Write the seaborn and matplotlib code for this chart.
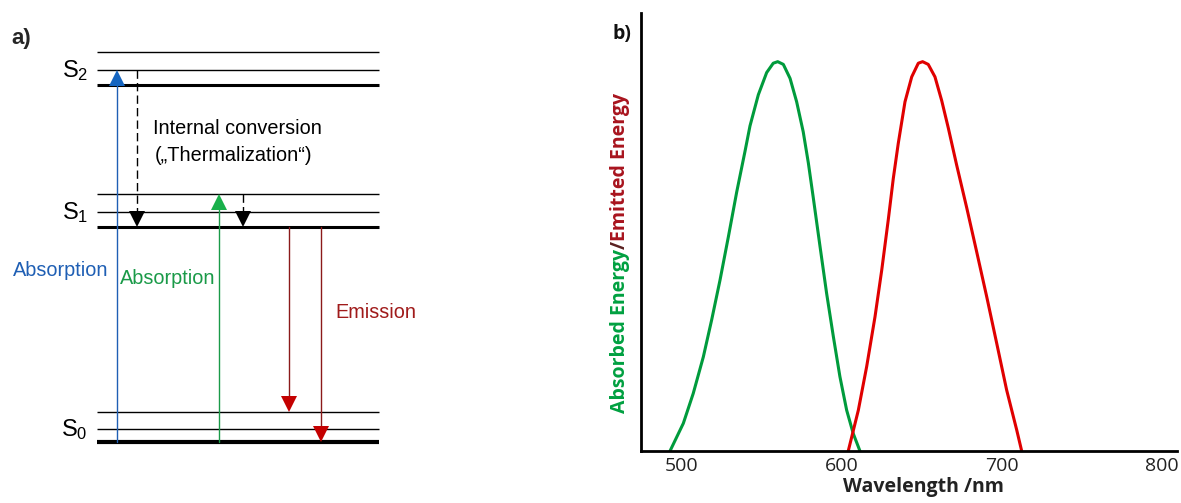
import matplotlib
matplotlib.use("Agg")
import matplotlib.pyplot as plt
import seaborn as sns
import pandas as pd

# ---------------- Panel b data ----------------
abs_wavelength = [493.1, 501.4, 507.6, 513.9, 519.1, 524.3, 529.5, 534.7, 539.9,
                  543.0, 548.2, 553.4, 557.5, 560.3, 563.8, 568.0, 572.1, 576.2,
                  579.4, 582.5, 586.7, 590.8, 595.0, 599.1, 603.3, 607.4, 611.6]
abs_energy = [0.0, 0.071, 0.148, 0.242, 0.337, 0.439, 0.550, 0.665, 0.770,
              0.835, 0.915, 0.972, 0.996, 1.0, 0.993, 0.957, 0.897, 0.820,
              0.740, 0.650, 0.525, 0.405, 0.294, 0.191, 0.105, 0.045, 0.0]
em_wavelength = [604.3, 610.6, 615.8, 621.0, 625.2, 629.3, 632.4, 635.5, 639.7,
                 643.9, 648.0, 650.7, 654.2, 658.4, 662.6, 666.7, 671.9, 678.2,
                 684.4, 690.7, 696.9, 703.1, 709.4, 712.5]
em_energy = [0.0, 0.105, 0.217, 0.345, 0.465, 0.595, 0.700, 0.790, 0.897,
             0.961, 0.996, 1.0, 0.993, 0.961, 0.900, 0.830, 0.735, 0.625,
             0.512, 0.396, 0.277, 0.157, 0.054, 0.0]
x_ticks = [500, 600, 700, 800]
x_tick_labels = ["500", "600", "700", "800"]

# ---------------- Panel a data (Jablonski diagram) ----------------
state_names = ["S$_0$", "S$_1$", "S$_2$"]
state_levels = [[91, 74, 61], [309, 291, 276], [451, 433, 418]]  # two vibrational + ground
level_x_range = [97, 379]
arrow_x = [117, 219, 137, 243, 289, 321]
arrow_from = [61, 61, 433, 309, 276, 276]
arrow_to = [433, 309, 276, 276, 91, 61]
arrow_line_color = ["#1f5fb4", "#1a9a48", "black", "black", "#8b1a1a", "#8b1a1a"]
arrow_head_color = ["#1565c0", "#19b04b", "black", "black", "#c40000", "#c40000"]
arrow_dashed = [False, False, True, True, False, False]

sns.set_theme(style="white")
plt.rcParams["font.family"] = ["Liberation Sans", "DejaVu Sans"]
plt.rcParams["mathtext.fontset"] = "custom"
plt.rcParams["mathtext.rm"] = "Liberation Sans"
plt.rcParams["mathtext.default"] = "regular"

W, H = 1181, 503
fig = plt.figure(figsize=(W / 100, H / 100), dpi=100)
fig.patch.set_facecolor("white")

# ---------------- Panel a ----------------
axa = fig.add_axes([0, 0, 430 / W, 1])
axa.set_xlim(0, 430)
axa.set_ylim(0, H)
axa.axis("off")

for name, levels in zip(state_names, state_levels):
    for i, y in enumerate(levels):
        thick = (i == 2)
        lw = (3.0 if name == "S$_0$" else 2.2) if thick else 1.0
        axa.plot(level_x_range, [y, y], color="black", lw=lw, solid_capstyle="butt")
    axa.text(88, levels[1] - 1, name, ha="right", va="center", fontsize=17, color="black")

head_len = 16
for x, y0, y1, lc, hc, dashed in zip(arrow_x, arrow_from, arrow_to,
                                     arrow_line_color, arrow_head_color, arrow_dashed):
    up = y1 > y0
    base = y1 - head_len if up else y1 + head_len
    ls = (0, (6, 3)) if dashed else "-"
    axa.plot([x, x], [y0, base], color=lc, lw=1.0, linestyle=ls)
    mid = y1 - head_len / 2 if up else y1 + head_len / 2
    axa.plot([x], [mid], marker="^" if up else "v", markersize=11.5,
             color=hc, markeredgewidth=0, linestyle="none")

axa.text(13, 233, "Absorption", color="#1f5fb4", fontsize=14.3, ha="left", va="center")
axa.text(120, 224, "Absorption", color="#1a9a48", fontsize=14.3, ha="left", va="center")
axa.text(335, 190, "Emission", color="#a01b1b", fontsize=14.3, ha="left", va="center")
axa.text(153, 375, "Internal conversion", color="black", fontsize=14.3, ha="left", va="center")
axa.text(155, 348, "(\u201eThermalization\u201c)", color="black", fontsize=14.3, ha="left", va="center")
axa.text(11, 465, "a)", fontsize=16, fontweight="bold", ha="left", va="center")

# ---------------- Panel b ----------------
left, right, bottom, top = 641, 1177, 451, 13
axb = fig.add_axes([left / W, (H - bottom) / H, (right - left) / W, (bottom - top) / H])
df_abs = pd.DataFrame({"wavelength": abs_wavelength, "energy": abs_energy})
df_em = pd.DataFrame({"wavelength": em_wavelength, "energy": em_energy})
sns.lineplot(data=df_abs, x="wavelength", y="energy", ax=axb, color="#009b3c", lw=2.2, sort=False)
sns.lineplot(data=df_em, x="wavelength", y="energy", ax=axb, color="#e00000", lw=2.2, sort=False)
axb.set_xlim(475.0, 809.4)
axb.set_ylim(0, 1.125)
sns.despine(ax=axb)
for side in ["left", "bottom"]:
    axb.spines[side].set_color("black")
    axb.spines[side].set_linewidth(2.0)
axb.set_yticks([])
axb.set_xticks(x_ticks)
axb.set_xticklabels(x_tick_labels, fontfamily="Open Sans", fontsize=14, color="#222222")
axb.tick_params(axis="x", length=0, pad=4)
axb.set_xlabel("Wavelength /nm", fontfamily="Open Sans", fontsize=14,
               fontweight="bold", color="#222222")
axb.xaxis.set_label_coords((923 - left) / (right - left), (bottom - 477) / (bottom - top))
axb.set_ylabel("")

# multicolour y label
t1 = fig.text(620 / W, (H - 413) / H, "Absorbed Energy", rotation=90, ha="center", va="bottom",
              fontfamily="Open Sans", fontsize=14, fontweight="bold", color="#00a040")
t2 = axb.annotate("/", xy=(0.5, 1.0), xycoords=t1, rotation=90, ha="center", va="bottom",
                  fontfamily="Open Sans", fontsize=14, fontweight="bold", color="#5a2020")
t3 = axb.annotate("Emitted Energy", xy=(0.5, 1.0), xycoords=t2, rotation=90, ha="center", va="bottom",
                  fontfamily="Open Sans", fontsize=14, fontweight="bold", color="#a8141e")
fig.text(613 / W, (H - 34) / H, "b)", ha="left", va="center",
         fontfamily="Open Sans", fontsize=14, fontweight="bold", color="#111111")

fig.savefig("out.png", dpi=100, facecolor="white")
